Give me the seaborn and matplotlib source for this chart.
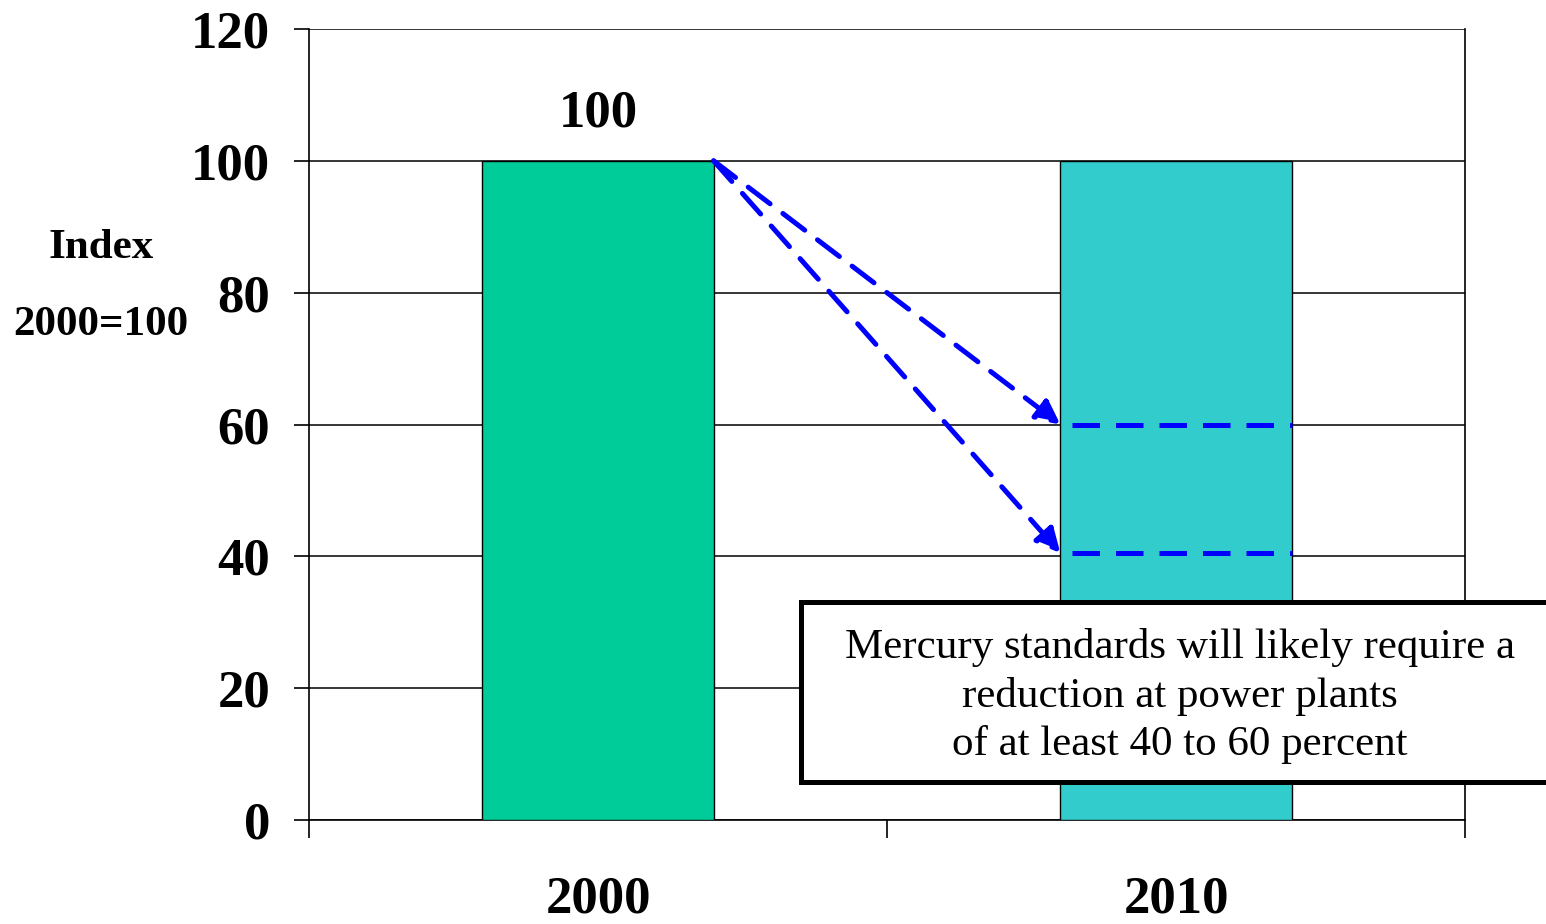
import matplotlib.pyplot as plt
import seaborn as sns
import pandas as pd
from matplotlib.patches import Rectangle

# chart data
years = ['2000', '2010']
index_values = [100, 100]
bar_colors = ['#00CC99', '#33CCCC']
target_levels = [60, 40.5]   # dashed reduction targets for 2010
y_ticks = [0, 20, 40, 60, 80, 100, 120]
note = "Mercury standards will likely require a\nreduction at power plants\nof at least 40 to 60 percent"

df = pd.DataFrame({'Year': years, 'Index': index_values})

sns.set_style('white')
plt.rcParams['font.family'] = ['Liberation Serif', 'DejaVu Serif']
plt.rcParams['text.color'] = 'black'
plt.rcParams['xtick.color'] = 'black'
plt.rcParams['ytick.color'] = 'black'

fig = plt.figure(figsize=(15.46, 9.24), dpi=100)
ax = fig.add_axes([309 / 1546, 1 - 820 / 924, (1465 - 309) / 1546, (820 - 29) / 924])

sns.barplot(data=df, x='Year', y='Index', hue='Year', palette=bar_colors, saturation=1,
            width=0.4, edgecolor='black', linewidth=1, legend=False, ax=ax, zorder=3)

ax.set_xlim(-0.5, 1.5)
ax.set_ylim(0, 120)
ax.set_yticks(y_ticks)
ax.yaxis.grid(True, color='black', linewidth=1.1, zorder=0)
ax.set_axisbelow(True)
for side in ['left', 'right', 'bottom']:
    ax.spines[side].set_visible(True)
    ax.spines[side].set_color('black')
    ax.spines[side].set_linewidth(1.2)
ax.spines['top'].set_visible(False)

# tick style
ax.tick_params(axis='y', which='major', direction='out', length=11, width=1.2,
               left=True, pad=17, labelsize=38)
ax.set_xticks([-0.5, 0.5, 1.5], minor=True)
ax.tick_params(axis='x', which='minor', direction='out', length=13, width=1.2, bottom=True)
ax.tick_params(axis='x', which='major', length=0, pad=40, labelsize=38)
for lbl in ax.get_xticklabels() + ax.get_yticklabels():
    lbl.set_fontweight('bold')
ax.set_xlabel('')
ax.set_ylabel('')

# value label on the 2000 bar
ax.text(0, index_values[0] + 3.5, str(index_values[0]), ha='center', va='bottom',
        fontsize=38, fontweight='bold')

# dashed arrows from the 2000 bar to the 2010 targets
x_start = 0.2
x_end = 0.8
dash = (0, (5.5, 3.2))
for lvl in target_levels:
    ax.annotate('', xy=(x_end, lvl), xytext=(x_start, index_values[0]),
                arrowprops=dict(arrowstyle='-|>', color='blue', lw=3.6,
                                linestyle=dash, mutation_scale=36,
                                shrinkA=0, shrinkB=0),
                zorder=5)
    ax.plot([0.82, 1.2], [lvl, lvl], color='blue', lw=3.6,
            linestyle=dash, zorder=5)

# y label
fig.text(101 / 1546, 1 - 248 / 924, 'Index', ha='center', va='center',
         fontsize=31, fontweight='bold')
fig.text(101 / 1546, 1 - 325 / 924, '2000=100', ha='center', va='center',
         fontsize=31, fontweight='bold')

# note box
fig.patches.append(Rectangle((801 / 1546, 1 - 782 / 924), (1570 - 801) / 1546, 180 / 924,
                             transform=fig.transFigure, facecolor='white',
                             edgecolor='black', linewidth=3.6, zorder=10))
fig.text(1180 / 1546, 1 - 696 / 924, note, ha='center', va='center',
         fontsize=31, linespacing=1.33, zorder=11)

fig.savefig('out.png', dpi=100)
